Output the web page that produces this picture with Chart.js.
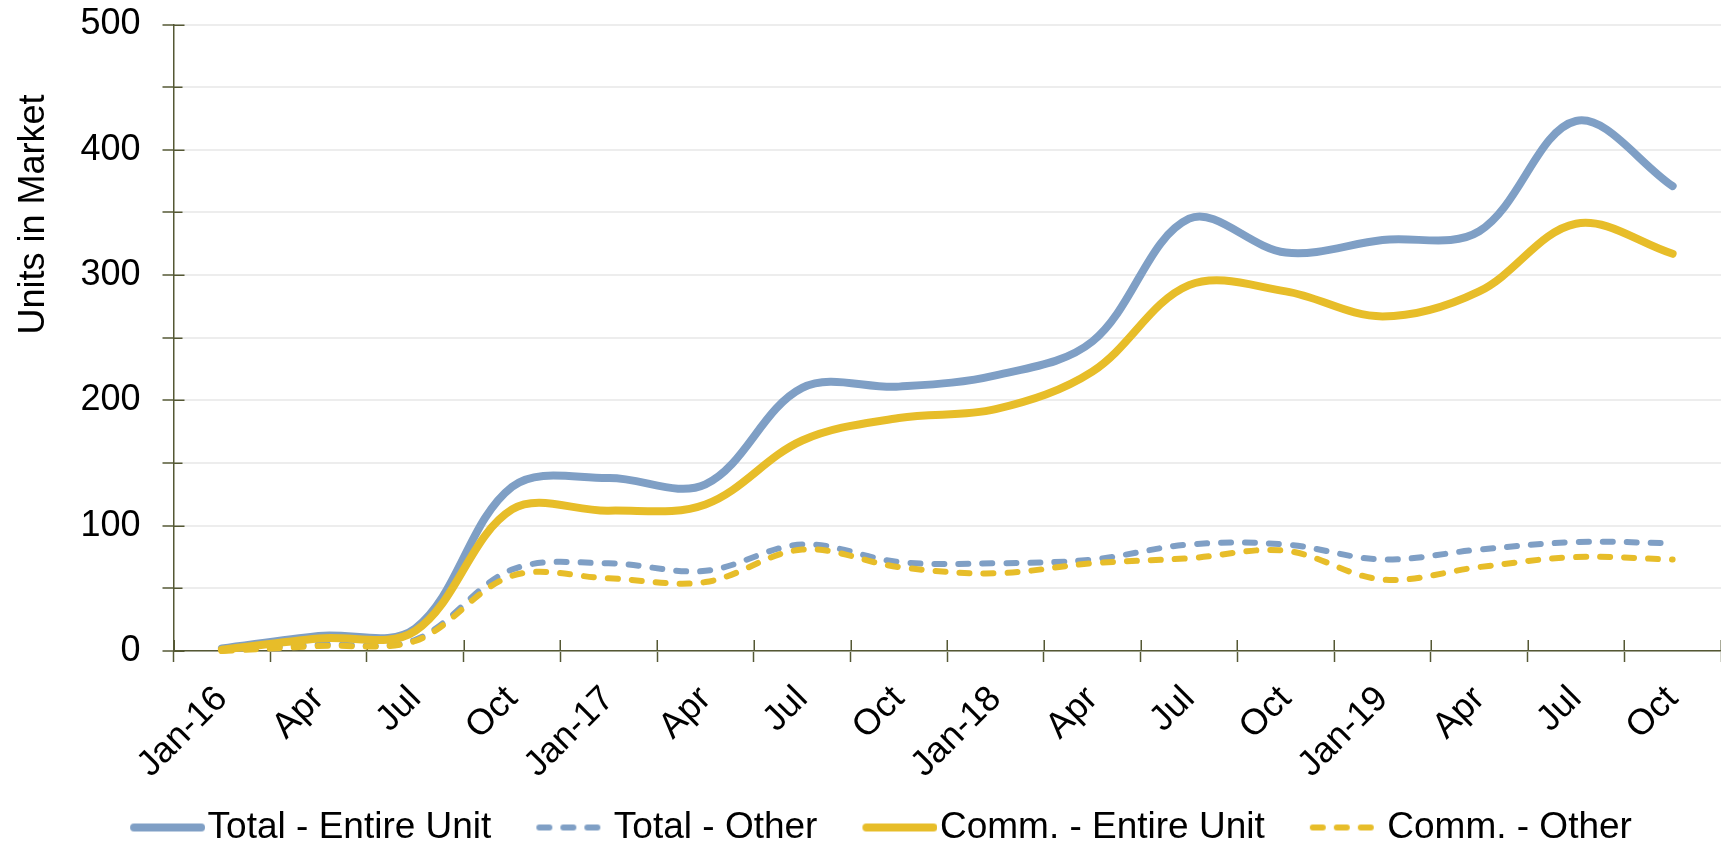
<!DOCTYPE html>
<html>
<head>
<meta charset="utf-8">
<title>Units in Market</title>
<script src="https://cdn.jsdelivr.net/npm/chart.js@4/dist/chart.umd.min.js"></script>
<style>
  html, body { margin: 0; padding: 0; background: #ffffff; }
  canvas { display: block; }
</style>
</head>
<body>
<canvas id="chart" width="1721" height="846"></canvas>
<script>
// Quarterly categories, Jan-16 through Oct-19
const quarterLabels = ['Jan-16', 'Apr', 'Jul', 'Oct', 'Jan-17', 'Apr', 'Jul', 'Oct',
                       'Jan-18', 'Apr', 'Jul', 'Oct', 'Jan-19', 'Apr', 'Jul', 'Oct'];

// Units in market per quarter
const totalEntireUnit = [2, 12, 18, 131, 138, 133, 210, 211, 220, 247, 345, 318, 328, 335, 423, 371];
const totalOther      = [1, 5, 9, 65, 70, 64, 85, 71, 70, 73, 85, 85, 73, 81, 87, 86];
const commEntireUnit  = [1, 10, 16, 113, 112, 117, 168, 186, 193, 223, 292, 287, 267, 287, 341, 317];
const commOther       = [0, 4, 8, 60, 58, 55, 81, 67, 62, 70, 74, 80, 57, 67, 75, 73];

// Y axis range and steps
const yMin = 0;
const yMax = 500;
const yStep = 50;
const yLabelStep = 100;

const seriesNames = ['Total - Entire Unit', 'Total - Other', 'Comm. - Entire Unit', 'Comm. - Other'];
const axisTitle = 'Units in Market';

// ---- styling ----
const BLUE = '#7f9fc5';
const GOLD = '#e7bd29';
const AXIS = '#555834';
const GRID = '#ededed';
const FONT = "'Liberation Sans', Arial, Helvetica, sans-serif";
const TICK_FONT = 36;
const LEGEND_FONT = 37;
const SOLID_W = 8;
const DASH_W = 6;
const DASH = [10, 14];

Chart.defaults.font.family = FONT;
Chart.defaults.color = '#000000';

// Legend sample: a line segment drawn into a small canvas, used as point style
const LEG_BOX = 100;       // layout width reserved for the sample
const LEG_LINE_START = 41; // sample starts this far into the box
const LEG_LINE_LEN = 75;   // visible sample length
function legendSample(color, width, dash) {
  const w = 132, h = 14;
  const c = document.createElement('canvas');
  c.width = w; c.height = h;
  const g = c.getContext('2d');
  // image is centred on the box centre; compute the box's left edge inside it
  const boxLeft = w / 2 - LEG_BOX / 2;
  const x0 = boxLeft + LEG_LINE_START + width / 2;
  const x1 = boxLeft + LEG_LINE_START + LEG_LINE_LEN - width / 2;
  g.strokeStyle = color;
  g.lineWidth = width;
  g.lineCap = 'round';
  g.setLineDash(dash);
  g.beginPath();
  g.moveTo(x0, h / 2);
  g.lineTo(x1, h / 2);
  g.stroke();
  return c;
}

// Tick marks that cross the axis lines (inner half; outer half comes from the scales)
const crossTicks = {
  id: 'crossTicks',
  beforeDatasetsDraw(chart) {
    const {ctx, chartArea, scales} = chart;
    const x = scales.x, y = scales.y;
    ctx.save();
    ctx.strokeStyle = AXIS;
    ctx.lineWidth = 1.5;
    ctx.beginPath();
    for (let i = 0; i <= quarterLabels.length; i++) {
      const px = Math.round(x.getPixelForValue(i - 0.5)) + 0.25;
      ctx.moveTo(px, chartArea.bottom);
      ctx.lineTo(px, chartArea.bottom - 11);
    }
    for (let v = yMin; v <= yMax; v += yStep) {
      const py = Math.round(y.getPixelForValue(v)) + 0.25;
      const len = v % yLabelStep === 0 ? 11 : 9;
      ctx.moveTo(chartArea.left, py);
      ctx.lineTo(chartArea.left + len, py);
    }
    ctx.stroke();
    ctx.restore();
  }
};

// Vertical axis title, placed toward the upper part of the axis
const yTitle = {
  id: 'yTitle',
  afterDraw(chart) {
    const {ctx, chartArea} = chart;
    ctx.save();
    ctx.translate(chartArea.left - 139, chartArea.top + 190);
    ctx.rotate(-Math.PI / 2);
    ctx.font = TICK_FONT + 'px ' + FONT;
    ctx.fillStyle = '#000000';
    ctx.textAlign = 'center';
    ctx.textBaseline = 'middle';
    ctx.fillText(axisTitle, 0, 0);
    ctx.restore();
  }
};

const datasets = [
  {
    label: seriesNames[0], data: totalEntireUnit,
    borderColor: BLUE, backgroundColor: BLUE, borderWidth: SOLID_W,
    pointStyle: legendSample(BLUE, SOLID_W, []), order: 2
  },
  {
    label: seriesNames[1], data: totalOther,
    borderColor: BLUE, backgroundColor: BLUE, borderWidth: DASH_W, borderDash: DASH,
    pointStyle: legendSample(BLUE, DASH_W, DASH), order: 3
  },
  {
    label: seriesNames[2], data: commEntireUnit,
    borderColor: GOLD, backgroundColor: GOLD, borderWidth: SOLID_W,
    pointStyle: legendSample(GOLD, SOLID_W, []), order: 0
  },
  {
    label: seriesNames[3], data: commOther,
    borderColor: GOLD, backgroundColor: GOLD, borderWidth: DASH_W, borderDash: DASH,
    pointStyle: legendSample(GOLD, DASH_W, DASH), order: 1
  }
].map(d => Object.assign({
  fill: false,
  tension: 0.35,
  pointRadius: 0,
  pointHoverRadius: 0,
  borderCapStyle: 'round',
  borderJoinStyle: 'round',
  clip: false
}, d));

new Chart(document.getElementById('chart'), {
  type: 'line',
  data: { labels: quarterLabels, datasets },
  plugins: [crossTicks, yTitle],
  options: {
    responsive: false,
    animation: false,
    devicePixelRatio: 1,
    layout: { padding: { left: 0, right: 0, top: 24.5, bottom: -10 } },
    plugins: {
      tooltip: { enabled: false },
      title: { display: false },
      legend: {
        position: 'bottom',
        align: 'center',
        labels: {
          usePointStyle: true,
          pointStyleWidth: LEG_BOX,
          boxHeight: LEGEND_FONT,
          padding: 4,
          color: '#000000',
          font: { size: LEGEND_FONT, family: FONT },
          sort: (a, b) => a.datasetIndex - b.datasetIndex
        }
      }
    },
    scales: {
      x: {
        type: 'category',
        offset: true,
        grid: {
          offset: true,
          drawOnChartArea: false,
          drawTicks: true,
          tickLength: 11,
          tickColor: AXIS,
          tickWidth: 1.5
        },
        border: { display: true, color: AXIS, width: 1.5 },
        ticks: {
          autoSkip: false,
          minRotation: 45,
          maxRotation: 45,
          padding: 16,
          color: '#000000',
          font: { size: TICK_FONT, family: FONT }
        },
        afterFit(scale) { scale.height = 154; }
      },
      y: {
        min: yMin,
        max: yMax,
        grid: {
          color: GRID,
          lineWidth: 2,
          drawTicks: true,
          tickLength: 11,
          tickColor: AXIS,
          tickWidth: 1.5
        },
        border: { display: true, color: AXIS, width: 1.5 },
        ticks: {
          stepSize: yStep,
          padding: 22,
          color: '#000000',
          font: { size: TICK_FONT, family: FONT },
          callback: v => (v % yLabelStep === 0 ? String(v) : '')
        },
        afterFit(scale) {
          scale.width = 173.5;
          scale.paddingTop = 0;
          scale.paddingBottom = 0;
        }
      }
    }
  }
});
</script>
</body>
</html>
